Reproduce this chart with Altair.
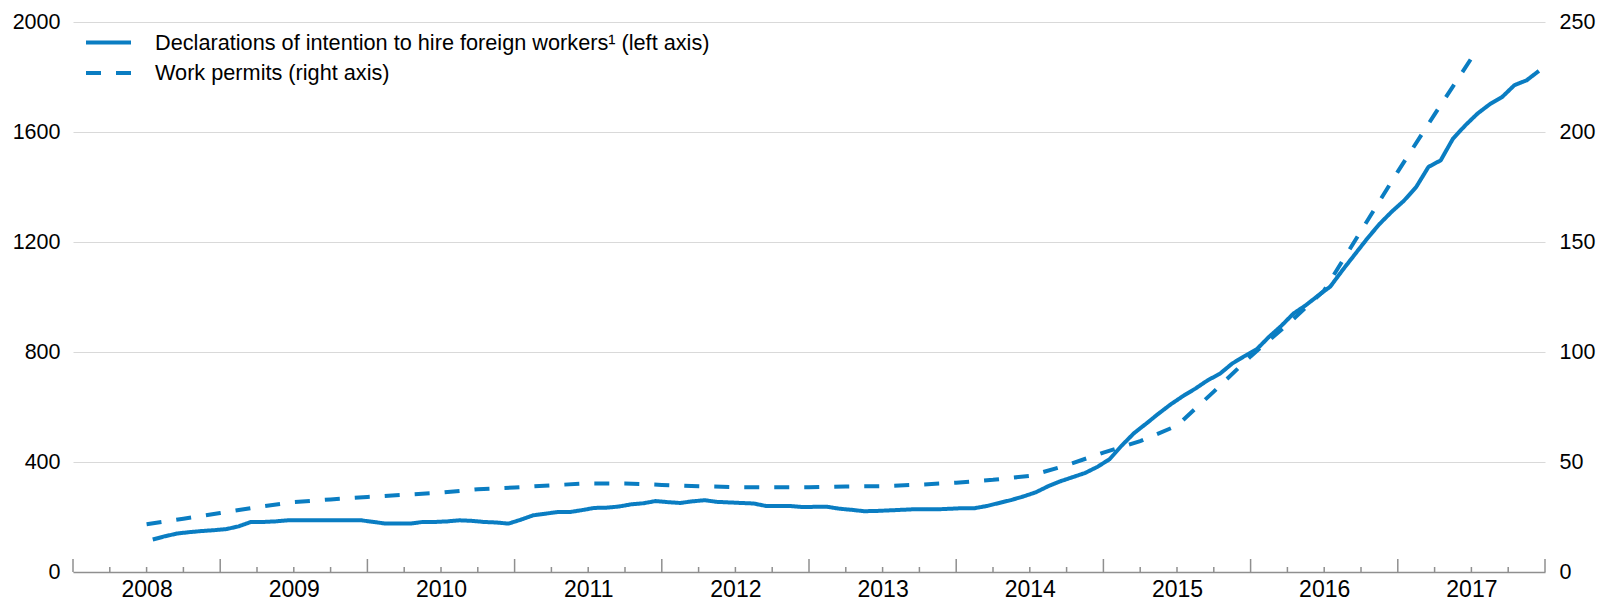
import altair as alt
import pandas as pd

# ---------------- data ----------------
series_names = [
    "Declarations of intention to hire foreign workers\u00b9 (left axis)",
    "Work permits (right axis)",
]

# Declarations (left axis), monthly Jan 2008 - Jun 2017
decl_years = [2008] * 12 + [2009] * 12 + [2010] * 12 + [2011] * 12 + [2012] * 12 + \
             [2013] * 12 + [2014] * 12 + [2015] * 12 + [2016] * 12 + [2017] * 6
decl_months = list(range(1, 13)) * 9 + list(range(1, 7))
declarations = [
    118, 130, 140, 145, 149, 152, 156, 166, 182, 182, 184, 188,
    188, 188, 188, 188, 188, 188, 182, 176, 176, 176, 182, 182,
    184, 188, 186, 182, 180, 176, 190, 206, 212, 218, 218, 225,
    233, 234, 238, 246, 250, 258, 254, 251, 257, 261, 255, 253,
    251, 249, 240, 240, 240, 236, 237, 237, 230, 226, 221, 222,
    224, 226, 228, 228, 228, 230, 232, 232, 240, 251, 262, 275,
    290, 312, 330, 345, 360, 382, 410, 460, 505, 540, 576, 610,
    640, 667, 697, 721, 758, 785, 810, 855, 895, 940, 970, 1005,
    1038, 1098, 1155, 1212, 1265, 1310, 1350, 1400, 1473, 1497, 1576, 1624,
    1667, 1701, 1727, 1770, 1788, 1822,
]

# Work permits (right axis), quarterly 2008Q1 - 2017Q1
permit_years = [2008] * 4 + [2009] * 4 + [2010] * 4 + [2011] * 4 + [2012] * 4 + \
               [2013] * 4 + [2014] * 4 + [2015] * 4 + [2016] * 4 + [2017]
permit_quarters = [1, 2, 3, 4] * 9 + [1]
permits = [
    21.7, 24.2, 26.8, 29.5,
    31.8, 33.0, 34.1, 35.1,
    36.1, 37.6, 38.4, 39.4,
    40.3, 40.2, 39.6, 39.0,
    38.6, 38.5, 38.5, 38.9,
    39.0, 39.7, 40.6, 41.9,
    43.7, 48.5, 54.3, 59.5,
    66.5, 82.0, 98.0, 112.5,
    128.0, 155.0, 182.0, 208.0,
    233.5,
]

year_labels = list(range(2008, 2018))
left_ticks = [0, 400, 800, 1200, 1600, 2000]
right_ticks = [0, 50, 100, 150, 200, 250]

# axis tick marks (quarterly, long at mid-year boundaries)
quarter_marks = [2007.5 + 0.25 * i for i in range(41)]
long_marks = [q for q in quarter_marks if abs(q - round(q)) == 0.5]
short_marks = [q for q in quarter_marks if q not in long_marks]

# ---------------- frames ----------------
decl_df = pd.DataFrame({
    "t": [y + (m - 0.5) / 12 for y, m in zip(decl_years, decl_months)],
    "v": declarations,
    "series": series_names[0],
})
perm_df = pd.DataFrame({
    "t": [y + (q - 1) / 4 for y, q in zip(permit_years, permit_quarters)],
    "v": permits,
    "series": series_names[1],
})

BLUE = "#0a7dc2"
AXISGRAY = "#8f8f8f"
FONT = "Liberation Sans"

xscale = alt.Scale(domain=[2007.5, 2017.5], nice=False, zero=False)
xaxis = alt.Axis(values=year_labels, format="d", grid=False, ticks=False,
                 domain=True, domainColor=AXISGRAY, domainWidth=1.5,
                 labelFontSize=23, labelPadding=6, labelColor="black",
                 labelFont=FONT, title=None)


def make_legend(y_pos):
    return alt.Legend(
        title=None, orient="none", legendX=11, legendY=y_pos,
        symbolType="stroke", symbolSize=2025, symbolStrokeWidth=4,
        symbolStrokeColor=BLUE, labelFontSize=21.7, labelFont=FONT,
        labelColor="black", labelOffset=22, padding=0, labelLimit=0,
    )


solid = alt.Chart(decl_df).mark_line(color=BLUE, strokeWidth=4, strokeJoin="round").encode(
    x=alt.X("t:Q", scale=xscale, axis=xaxis),
    y=alt.Y("v:Q", scale=alt.Scale(domain=[0, 2000], nice=False),
            axis=alt.Axis(values=left_ticks, format="d", grid=True, gridColor="#d9d9d9", gridWidth=1,
                          domain=False, ticks=False, labelFontSize=21.5, labelFont=FONT,
                          labelColor="black", labelPadding=13, title=None)),
    strokeDash=alt.StrokeDash("series:N",
                              scale=alt.Scale(domain=[series_names[0]], range=[[1, 0]]),
                              legend=make_legend(-4)),
)

dashed = alt.Chart(perm_df).mark_line(color=BLUE, strokeWidth=4, strokeCap="butt").encode(
    x=alt.X("t:Q", scale=xscale),
    y=alt.Y("v:Q", scale=alt.Scale(domain=[0, 250], nice=False),
            axis=alt.Axis(orient="right", values=right_ticks, format="d", grid=False,
                          domain=False, ticks=False, labelFontSize=21.5, labelFont=FONT,
                          labelColor="black", labelPadding=14, title=None)),
    strokeDash=alt.StrokeDash("series:N",
                              scale=alt.Scale(domain=[series_names[1]], range=[[15, 15]]),
                              legend=make_legend(26.5)),
)

long_df = pd.DataFrame({"t": long_marks})
short_df = pd.DataFrame({"t": short_marks})
long_ticks = alt.Chart(long_df).mark_rule(color=AXISGRAY, strokeWidth=1.5).encode(
    x=alt.X("t:Q", scale=xscale), y=alt.value(550), y2=alt.value(537))
short_ticks = alt.Chart(short_df).mark_rule(color=AXISGRAY, strokeWidth=1.5).encode(
    x=alt.X("t:Q", scale=xscale), y=alt.value(550), y2=alt.value(545))

chart = alt.layer(long_ticks, short_ticks, dashed, solid).resolve_scale(
    y="independent", strokeDash="independent"
).resolve_legend(
    strokeDash="independent"
).properties(
    width=1472, height=550,
    autosize=alt.AutoSizeParams(type="none"),
    padding={"left": 65, "top": 14, "right": 60, "bottom": 28},
).configure_view(stroke=None)

chart.save("out.html", embed_options={"renderer": "svg", "actions": False})
